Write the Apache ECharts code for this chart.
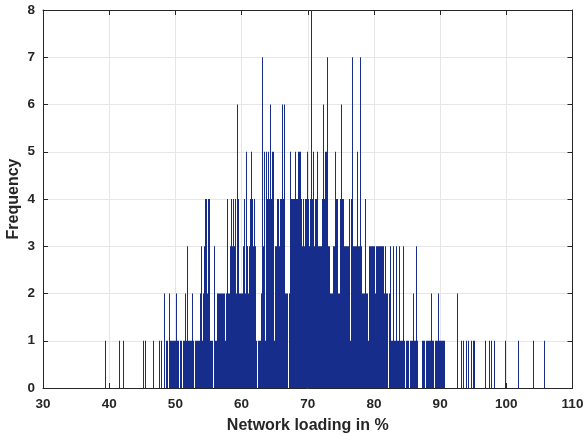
<!DOCTYPE html>
<html>
<head>
<meta charset="utf-8">
<script src="https://cdn.jsdelivr.net/npm/echarts@6/dist/echarts.min.js"></script>
<style>html,body{margin:0;padding:0;background:#fff}#c{width:584px;height:436px}</style>
</head>
<body>
<div id="c"></div>
<script>
// Histogram bins: first bin left edge and bin width (in % network loading)
const binStart = 38.70;
const binWidth = 0.151;
// Frequency per bin (left to right)
const counts = [
0,0,0,0,1,0,0,0,0,0,
0,0,0,0,0,0,0,0,1,0,
0,0,1,0,0,0,0,0,0,0,
0,0,0,0,0,0,0,0,0,0,
0,0,1,0,1,0,0,0,0,0,
0,0,1,0,0,0,0,0,1,0,
1,0,0,2,0,1,1,0,2,1,
1,1,1,1,1,2,1,1,0,1,
1,0,1,1,2,1,3,1,1,1,
1,2,1,0,1,1,1,1,1,2,
3,1,2,3,4,4,2,4,4,1,
1,1,0,3,1,1,2,2,2,2,
2,2,2,2,1,2,4,2,2,3,
4,3,4,3,4,2,6,4,2,2,
2,2,3,4,2,5,3,3,2,3,
4,5,4,3,4,3,1,0,1,1,
1,2,7,3,5,1,5,4,5,4,
6,4,5,5,1,3,3,4,4,3,
4,4,6,4,6,2,2,2,0,2,
5,4,4,4,4,5,4,4,5,5,
5,4,3,4,3,4,4,5,4,3,
4,8,4,5,3,4,4,5,3,3,
3,3,4,6,4,5,5,7,3,3,
2,2,2,3,3,5,4,4,2,2,
4,6,4,4,3,3,3,3,3,4,
1,4,7,3,3,3,3,5,3,3,
7,3,2,2,2,4,2,2,1,3,
3,3,3,3,3,2,3,3,3,3,
3,3,3,3,2,3,2,2,0,2,
3,1,1,3,1,1,3,1,1,3,
1,1,1,3,1,0,1,1,1,0,
1,1,1,2,1,1,3,1,0,0,
0,0,1,1,1,0,1,1,1,1,
1,2,1,1,0,1,1,1,2,1,
1,1,1,1,1,0,0,0,0,0,
0,0,0,0,0,0,0,2,0,0,
0,1,0,1,0,0,1,0,1,0,
0,1,0,1,1,0,0,0,0,0,
0,0,0,0,0,1,0,0,0,1,
0,1,0,0,1,0,0,0,0,0,
0,0,0,0,0,1,0,0,0,0,
0,0,0,0,0,0,0,0,1,0,
0,0,0,0,0,0,0,0,0,0,
0,0,0,1,0,0,0,0,0,0,
0,0,0,0,1,0,0,0,0,0
];
const xTicks = [30,40,50,60,70,80,90,100,110];
const yTicks = [0,1,2,3,4,5,6,7,8];
const xName = 'Network loading in %';
const yName = 'Frequency';

const data = [];
counts.forEach((c, i) => { if (c > 0) data.push([binStart + i * binWidth, c]); });

const axisColor = '#262626';
const gridColor = '#e6e6e6';
const font = 'Liberation Sans, Arial, Helvetica, sans-serif';

const chart = echarts.init(document.getElementById('c'), null, {renderer: 'canvas'});
chart.setOption({
  animation: false,
  backgroundColor: '#fff',
  grid: {left: 43, right: 11.5, top: 10, bottom: 48, containLabel: false, outerBoundsMode: 'none'},
  xAxis: [{
    type: 'value', min: xTicks[0], max: xTicks[xTicks.length-1], interval: 10,
    name: xName, nameLocation: 'middle', nameGap: 30, nameMoveOverlap: false,
    nameTextStyle: {fontFamily: font, fontWeight: 'bold', fontSize: 16, color: axisColor},
    axisLine: {show: true, onZero: false, lineStyle: {color: axisColor, width: 1}},
    axisTick: {show: true, inside: true, length: 5, lineStyle: {color: axisColor}},
    axisLabel: {fontFamily: font, fontWeight: 'bold', fontSize: 13.5, color: axisColor, margin: 9},
    splitLine: {show: true, lineStyle: {color: gridColor, width: 1}}
  }, {
    type: 'value', position: 'top', min: xTicks[0], max: xTicks[xTicks.length-1], interval: 10,
    axisLine: {show: true, onZero: false, lineStyle: {color: axisColor, width: 1}},
    axisTick: {show: true, inside: true, length: 5, lineStyle: {color: axisColor}},
    axisLabel: {show: false}, splitLine: {show: false}
  }],
  yAxis: [{
    type: 'value', min: yTicks[0], max: yTicks[yTicks.length-1], interval: 1,
    name: yName, nameLocation: 'middle', nameGap: 21, nameRotate: 90, nameMoveOverlap: false,
    nameTextStyle: {fontFamily: font, fontWeight: 'bold', fontSize: 16, color: axisColor},
    axisLine: {show: true, onZero: false, lineStyle: {color: axisColor, width: 1}},
    axisTick: {show: true, inside: true, length: 5, lineStyle: {color: axisColor}},
    axisLabel: {fontFamily: font, fontWeight: 'bold', fontSize: 13.5, color: axisColor, margin: 8},
    splitLine: {show: true, lineStyle: {color: gridColor, width: 1}}
  }, {
    type: 'value', position: 'right', min: yTicks[0], max: yTicks[yTicks.length-1], interval: 1,
    axisLine: {show: true, onZero: false, lineStyle: {color: axisColor, width: 1}},
    axisTick: {show: true, inside: true, length: 5, lineStyle: {color: axisColor}},
    axisLabel: {show: false}, splitLine: {show: false}
  }],
  series: [{
    type: 'custom',
    xAxisIndex: 0, yAxisIndex: 0,
    data: data,
    encode: {x: 0, y: 1},
    renderItem: function (params, api) {
      const x0 = api.value(0), c = api.value(1);
      const p1 = api.coord([x0, c]);
      const p2 = api.coord([x0 + binWidth, 0]);
      const xa = Math.round(p1[0]);
      const xb = Math.max(Math.round(p2[0]), xa + 1);
      return {
        type: 'rect',
        shape: {x: xa, y: p1[1], width: xb - xa, height: p2[1] - p1[1]},
        style: {fill: '#172d8c', stroke: null}
      };
    },
    z: 1
  }]
});
</script>
</body>
</html>
